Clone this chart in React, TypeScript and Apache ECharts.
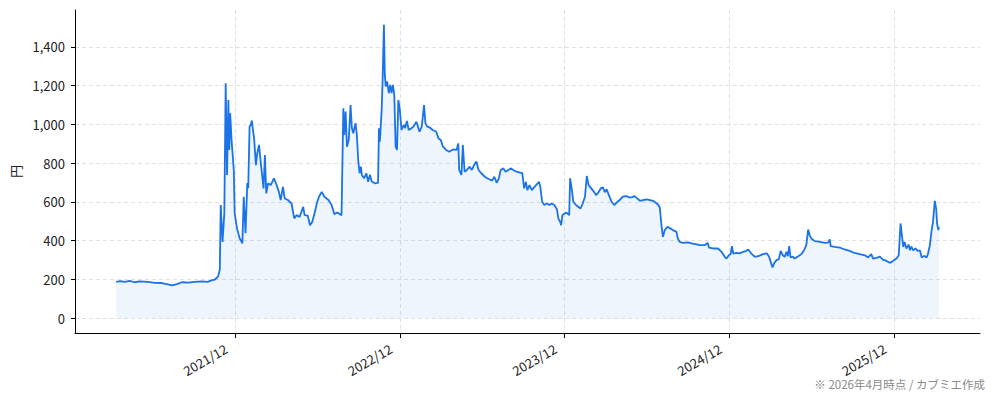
import React, { useEffect, useRef } from "react";
import * as echarts from "echarts";

const dates: string[] = [
  "2021-03-11","2021-03-20","2021-03-30","2021-04-10","2021-04-21","2021-05-02","2021-05-20","2021-06-05","2021-06-20","2021-07-04",
  "2021-07-13","2021-07-24","2021-08-04","2021-08-17","2021-09-02","2021-09-17","2021-09-30","2021-10-09","2021-10-16","2021-10-23",
  "2021-10-27","2021-10-29","2021-11-02","2021-11-06","2021-11-09","2021-11-12","2021-11-15","2021-11-17","2021-11-19","2021-11-22",
  "2021-11-27","2021-11-29","2021-12-04","2021-12-10","2021-12-16","2021-12-19","2021-12-23","2021-12-27","2021-12-29","2022-01-01",
  "2022-01-04","2022-01-06","2022-01-08","2022-01-11","2022-01-15","2022-01-18","2022-01-22","2022-01-26","2022-01-30","2022-02-01",
  "2022-02-04","2022-02-07","2022-02-11","2022-02-17","2022-02-24","2022-03-02","2022-03-07","2022-03-11","2022-03-16","2022-03-20",
  "2022-03-27","2022-04-04","2022-04-10","2022-04-15","2022-04-22","2022-04-30","2022-05-03","2022-05-10","2022-05-15","2022-05-20",
  "2022-05-26","2022-05-30","2022-06-04","2022-06-10","2022-06-16","2022-06-25","2022-07-02","2022-07-08","2022-07-14","2022-07-18",
  "2022-07-24","2022-07-28","2022-07-30","2022-08-02","2022-08-05","2022-08-09","2022-08-13","2022-08-16","2022-08-19","2022-08-24",
  "2022-08-27","2022-08-30","2022-09-02","2022-09-05","2022-09-07","2022-09-12","2022-09-17","2022-09-21","2022-09-25","2022-09-29",
  "2022-10-06","2022-10-13","2022-10-15","2022-10-17","2022-10-21","2022-10-23","2022-10-26","2022-10-28","2022-10-30","2022-11-02",
  "2022-11-06","2022-11-09","2022-11-12","2022-11-15","2022-11-18","2022-11-21","2022-11-24","2022-11-27","2022-11-30","2022-12-04",
  "2022-12-09","2022-12-12","2022-12-16","2022-12-20","2022-12-26","2022-12-31","2023-01-06","2023-01-13","2023-01-18","2023-01-23",
  "2023-01-26","2023-01-30","2023-02-04","2023-02-11","2023-02-19","2023-02-24","2023-03-01","2023-03-06","2023-03-13","2023-03-20",
  "2023-03-28","2023-04-05","2023-04-09","2023-04-11","2023-04-16","2023-04-19","2023-04-23","2023-04-28","2023-05-04","2023-05-09",
  "2023-05-14","2023-05-19","2023-05-24","2023-05-30","2023-06-07","2023-06-12","2023-06-18","2023-06-23","2023-06-28","2023-07-03",
  "2023-07-08","2023-07-12","2023-07-18","2023-07-23","2023-07-29","2023-08-04","2023-08-09","2023-08-16","2023-08-24","2023-08-29",
  "2023-09-02","2023-09-06","2023-09-09","2023-09-14","2023-09-19","2023-09-25","2023-10-02","2023-10-05","2023-10-08","2023-10-12",
  "2023-10-17","2023-10-23","2023-10-28","2023-11-02","2023-11-08","2023-11-14","2023-11-17","2023-11-21","2023-11-23","2023-11-26",
  "2023-11-30","2023-12-05","2023-12-11","2023-12-13","2023-12-17","2023-12-20","2023-12-26","2023-12-31","2024-01-05","2024-01-10",
  "2024-01-15","2024-01-19","2024-01-23","2024-01-29","2024-02-04","2024-02-09","2024-02-14","2024-02-19","2024-02-24","2024-02-28",
  "2024-03-03","2024-03-08","2024-03-14","2024-03-20","2024-03-25","2024-04-01","2024-04-08","2024-04-16","2024-04-23","2024-04-29",
  "2024-05-04","2024-05-09","2024-05-16","2024-05-23","2024-05-31","2024-06-07","2024-06-14","2024-06-20","2024-06-26","2024-06-29",
  "2024-07-03","2024-07-06","2024-07-10","2024-07-16","2024-07-21","2024-07-28","2024-08-05","2024-08-08","2024-08-12","2024-08-19",
  "2024-08-31","2024-09-07","2024-09-16","2024-09-26","2024-10-07","2024-10-13","2024-10-16","2024-10-25","2024-11-05","2024-11-13",
  "2024-11-20","2024-11-24","2024-11-29","2024-12-03","2024-12-06","2024-12-09","2024-12-16","2024-12-23","2024-12-31","2025-01-07",
  "2025-01-11","2025-01-18","2025-01-26","2025-02-04","2025-02-13","2025-02-21","2025-02-26","2025-03-02","2025-03-06","2025-03-10",
  "2025-03-15","2025-03-20","2025-03-24","2025-03-29","2025-04-02","2025-04-06","2025-04-09","2025-04-12","2025-04-15","2025-04-20",
  "2025-04-24","2025-05-02","2025-05-09","2025-05-15","2025-05-20","2025-05-24","2025-05-28","2025-05-31","2025-06-08","2025-06-19",
  "2025-06-30","2025-07-07","2025-07-11","2025-07-13","2025-07-22","2025-08-02","2025-08-13","2025-08-24","2025-09-04","2025-09-15",
  "2025-09-27","2025-10-04","2025-10-11","2025-10-15","2025-10-23","2025-10-30","2025-11-06","2025-11-14","2025-11-21","2025-11-28",
  "2025-12-06","2025-12-11","2025-12-15","2025-12-18","2025-12-21","2025-12-24","2025-12-28","2026-01-02","2026-01-05","2026-01-08",
  "2026-01-12","2026-01-17","2026-01-22","2026-01-27","2026-01-31","2026-02-05","2026-02-11","2026-02-14","2026-02-18","2026-02-22",
  "2026-02-25","2026-03-01","2026-03-04","2026-03-06","2026-03-09","2026-03-10"
];

const prices: number[] = [
  188,192,188,193,186,190,188,183,182,175,
  170,176,186,184,188,190,188,196,200,215,
  250,584,394,541,1212,739,1126,868,1057,920,
  765,541,465,413,387,627,439,697,671,988,
  1000,1020,980,930,790,851,894,799,713,670,
  842,644,696,687,722,687,652,610,678,618,
  610,592,515,532,523,575,532,530,480,497,
  549,592,627,652,627,610,584,536,545,541,
  532,1083,945,1066,885,920,1100,980,954,1006,
  945,816,748,782,739,722,748,704,740,705,
  696,698,980,911,1075,1221,1514,1255,1195,1221,
  1161,1204,1161,1204,1152,885,868,1126,1083,971,
  997,980,1018,971,980,990,1014,962,990,1100,
  1006,988,985,971,962,928,920,885,868,859,
  871,868,902,765,739,894,756,765,782,765,
  790,808,765,748,730,722,716,710,730,699,
  722,765,773,756,765,773,765,756,751,748,
  670,704,661,687,661,678,696,704,678,601,
  584,592,584,592,584,561,515,497,480,532,
  540,545,532,722,661,601,584,575,566,592,
  627,734,687,670,652,635,650,670,675,650,
  665,635,601,584,596,610,627,630,623,625,
  630,620,606,610,613,610,606,596,584,570,
  472,420,455,472,465,455,446,412,394,389,
  392,386,382,377,378,389,365,360,360,343,
  317,308,325,330,372,334,338,335,343,348,
  355,334,317,322,331,335,320,291,262,286,
  300,305,348,325,317,343,320,372,314,318,
  308,320,331,351,377,458,424,412,398,394,
  389,390,407,372,368,365,355,348,337,331,
  325,314,331,308,312,318,303,296,286,295,
  308,325,489,429,368,394,360,380,351,370,
  350,360,348,350,314,322,314,334,377,455,
  497,606,566,489,455,472
];

const xTickDates: string[] = ["2021-12-01", "2022-12-01", "2023-12-01", "2024-12-01", "2025-12-01"];
const yTickValues: number[] = [0, 200, 400, 600, 800, 1000, 1200, 1400];
const yAxisName = "円";
const noteText = "※ 2026年4月時点 / カブミエ作成";

const FONT = '"Noto Sans CJK JP", "Noto Sans", sans-serif';

function parseDate(s: string): number {
  const [y, m, d] = s.split("-").map(Number);
  return new Date(y, m - 1, d).getTime();
}

export default function App() {
  const ref = useRef<HTMLDivElement>(null);

  useEffect(() => {
    if (!ref.current) return;
    const chart = echarts.init(ref.current, null, { renderer: "svg" });
    const ts = dates.map(parseDate);
    const data = ts.map((t, i) => [t, prices[i]]);
    const span = ts[ts.length - 1] - ts[0];
    const xMin = ts[0] - span * 0.05;
    const xMax = ts[ts.length - 1] + span * 0.05;
    const pMax = Math.max(...prices);
    const yMin = -pMax * 0.05;
    const yMax = pMax * 1.05;
    const xTicks = xTickDates.map(parseDate);
    const gridLine = { show: true, lineStyle: { color: "#d9d9d9", type: [4, 3], width: 0.8 } };

    chart.setOption({
      animation: false,
      backgroundColor: "#ffffff",
      grid: { left: 75, right: 14, top: 10, bottom: 68, containLabel: false, outerBoundsMode: "none" },
      xAxis: {
        type: "value",
        min: xMin,
        max: xMax,
        scale: true,
        axisLine: { show: true, onZero: false, lineStyle: { color: "#000", width: 1 } },
        axisTick: { show: true, length: 5, customValues: xTicks, lineStyle: { color: "#000", width: 1 } },
        axisLabel: {
          customValues: xTicks,
          rotate: 30,
          margin: 9,
          padding: [2, 11, 0, 0],
          color: "#222",
          fontSize: 13,
          fontFamily: FONT,
          formatter: (v: number) => {
            const d = new Date(v);
            return `${d.getFullYear()}/${String(d.getMonth() + 1).padStart(2, "0")}`;
          },
        },
        splitLine: gridLine,
      },
      yAxis: {
        type: "value",
        min: yMin,
        max: yMax,
        name: yAxisName,
        nameLocation: "middle",
        nameRotate: 90,
        nameGap: 52,
        nameTextStyle: { color: "#222", fontSize: 13, fontFamily: FONT },
        axisLine: { show: true, onZero: false, lineStyle: { color: "#000", width: 1 } },
        axisTick: { show: true, length: 4, customValues: yTickValues, lineStyle: { color: "#000", width: 1 } },
        axisLabel: {
          customValues: yTickValues,
          margin: 10,
          color: "#222",
          fontSize: 13,
          fontFamily: FONT,
          formatter: (v: number) => v.toLocaleString("en-US"),
        },
        splitLine: gridLine,
      },
      series: [
        {
          type: "line",
          data,
          showSymbol: false,
          symbol: "none",
          lineStyle: { color: "#1a73e8", width: 1.8 },
          itemStyle: { color: "#1a73e8" },
          areaStyle: { color: "rgba(26,115,232,0.1)" },
        },
      ],
      graphic: [
        {
          type: "text",
          right: 9,
          top: 378,
          style: { text: noteText, fill: "#8a8a8a", font: `11.5px ${FONT}` },
        },
      ],
    });

    return () => chart.dispose();
  }, []);

  return <div ref={ref} style={{ position: "fixed", left: 0, top: 0, width: 994, height: 401 }} />;
}
